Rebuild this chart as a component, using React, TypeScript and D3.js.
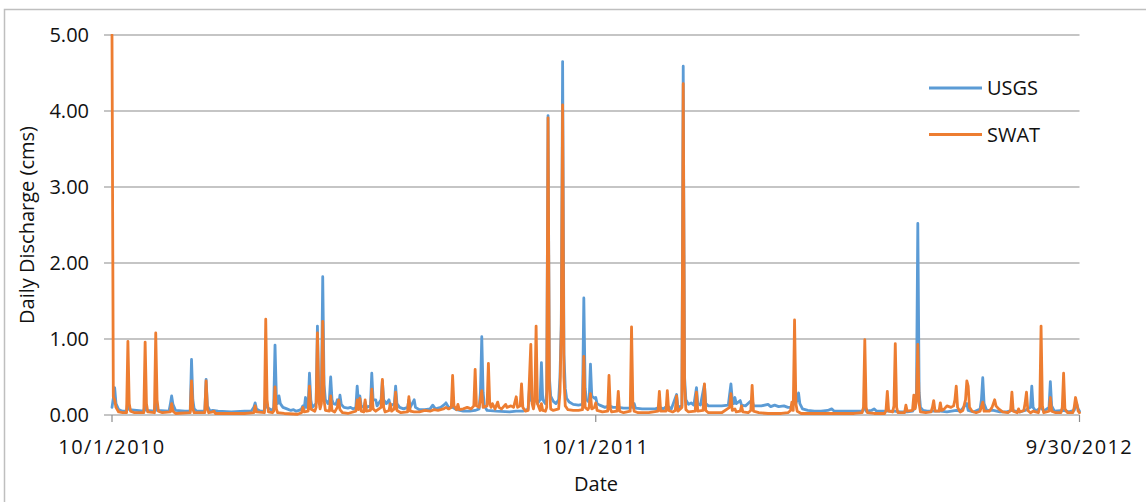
import React from "react";
import * as d3 from "d3";

// Day offsets from 10/1/2010 and daily discharge (cms)
const xTickDays = [0, 365, 730];
const xTickLabels = ["10/1/2010", "10/1/2011", "9/30/2012"];
const yTicks = [0, 1, 2, 3, 4, 5];
const seriesNames = ["USGS", "SWAT"];

const usgsPoints: [number, number][] = [
  [0,0.1],[1,0.22],[2,0.36],[3,0.15],[5,0.07],[8,0.05],[11,0.05],[12,0.2],[13,0.07],
  [24,0.05],[25,0.15],[26,0.06],[32,0.05],[33,0.2],[34,0.06],[43,0.05],[44,0.14],[45,0.25],[46,0.14],[48,0.06],
  [55,0.05],[59,0.05],[60,0.73],[61,0.2],[62,0.08],[64,0.05],[70,0.05],[71,0.47],[72,0.12],[74,0.05],
  [76,0.06],[80,0.05],[90,0.04],[100,0.05],[105,0.05],[107,0.1],[108,0.16],[109,0.08],
  [112,0.05],[115,0.05],[116,0.3],[117,0.1],[121,0.06],[122,0.1],[123,0.92],[124,0.25],[125,0.15],[126,0.25],[127,0.15],
  [129,0.1],[132,0.08],[135,0.06],[137,0.07],[139,0.05],[141,0.06],[143,0.08],[144,0.12],[145,0.08],[146,0.23],[147,0.1],
  [148,0.12],[149,0.55],[150,0.2],[151,0.1],[154,0.15],[155,1.17],[156,0.3],[157,0.2],[158,0.3],[159,1.82],[160,0.4],
  [161,0.2],[163,0.15],[164,0.2],[165,0.5],[166,0.2],[167,0.15],[169,0.14],[170,0.2],[171,0.12],[172,0.26],[173,0.14],
  [175,0.1],[178,0.09],[180,0.1],[182,0.08],[184,0.1],[185,0.38],[186,0.15],[187,0.25],[188,0.12],[190,0.1],[191,0.17],
  [192,0.1],[195,0.12],[196,0.55],[197,0.2],[199,0.2],[200,0.12],[203,0.2],[204,0.45],[205,0.2],[207,0.15],[209,0.2],
  [210,0.12],[213,0.15],[214,0.38],[215,0.15],[217,0.1],[220,0.08],[223,0.1],[224,0.2],[225,0.1],[228,0.2],[229,0.1],
  [232,0.07],[236,0.07],[240,0.08],[242,0.13],[244,0.08],[248,0.1],[251,0.14],[252,0.16],[254,0.1],[257,0.1],[260,0.07],
  [265,0.05],[270,0.05],[274,0.06],[277,0.08],[278,0.3],[279,1.03],[280,0.3],[281,0.12],[283,0.06],[290,0.05],[300,0.04],
  [305,0.05],[310,0.05],[314,0.08],[315,0.35],[316,0.2],[318,0.15],[320,0.25],[321,0.15],[323,0.2],[324,0.69],[325,0.2],
  [327,0.15],[328,0.3],[329,3.94],[330,0.5],[331,0.25],[333,0.18],[335,0.15],[337,0.2],[338,0.5],[339,1.2],[340,4.65],
  [341,0.8],[342,0.35],[343,0.22],[345,0.17],[348,0.14],[352,0.13],[355,0.14],[356,1.54],[357,0.35],[358,0.2],[360,0.17],
  [361,0.67],[362,0.25],[364,0.22],[365,0.23],[366,0.15],[368,0.13],[372,0.1],[375,0.12],[378,0.1],[382,0.1],[386,0.09],
  [391,0.09],[392,0.15],[393,0.1],[394,0.15],[395,0.09],[400,0.08],[405,0.08],[410,0.08],[413,0.1],[416,0.08],[419,0.12],
  [422,0.08],[426,0.27],[427,0.1],[430,0.12],[431,4.59],[432,0.5],[433,0.2],[435,0.14],[437,0.16],[439,0.13],[441,0.36],
  [442,0.15],[444,0.13],[447,0.4],[448,0.15],[450,0.12],[455,0.12],[460,0.12],[465,0.13],[467,0.41],[468,0.2],[469,0.15],
  [470,0.23],[471,0.15],[474,0.19],[475,0.13],[478,0.12],[483,0.2],[484,0.12],[490,0.12],[495,0.14],[497,0.11],[500,0.13],
  [503,0.11],[507,0.12],[510,0.1],[513,0.1],[515,0.2],[516,0.15],[517,0.2],[518,0.29],[519,0.15],[521,0.08],[525,0.06],
  [530,0.05],[535,0.05],[540,0.06],[543,0.08],[545,0.05],[550,0.05],[555,0.05],[560,0.05],[566,0.05],[568,0.1],[569,0.05],
  [573,0.06],[575,0.08],[577,0.05],[585,0.05],[590,0.05],[595,0.04],[600,0.04],[604,0.05],[606,0.1],[607,0.3],[608,2.52],
  [609,0.3],[610,0.1],[612,0.06],[615,0.05],[620,0.05],[625,0.05],[630,0.04],[637,0.06],[640,0.05],[645,0.15],[646,0.06],
  [650,0.04],[655,0.08],[656,0.2],[657,0.49],[658,0.15],[660,0.06],[665,0.06],[670,0.04],[675,0.04],[679,0.06],[685,0.04],
  [689,0.06],[693,0.1],[694,0.38],[695,0.1],[697,0.05],[701,0.1],[703,0.05],[707,0.1],[708,0.44],[709,0.12],[711,0.05],
  [718,0.06],[722,0.04],[726,0.06],[727,0.12],[728,0.14],[729,0.08],[730,0.05],
];

const swatPoints: [number, number][] = [
  [0,5.0],[1,0.24],[2,0.2],[3,0.1],[5,0.04],[8,0.03],[11,0.03],[12,0.97],[13,0.15],[14,0.05],[17,0.03],[24,0.03],
  [25,0.96],[26,0.15],[27,0.04],[32,0.03],[33,1.08],[34,0.2],[35,0.05],[38,0.03],[44,0.04],[45,0.15],[46,0.05],[48,0.02],
  [59,0.03],[60,0.45],[61,0.08],[62,0.03],[70,0.03],[71,0.45],[72,0.08],[73,0.03],[76,0.04],[77,0.05],[78,0.02],[90,0.02],
  [100,0.02],[107,0.03],[108,0.12],[109,0.04],[115,0.03],[116,1.26],[117,0.2],[118,0.04],[121,0.03],[122,0.05],[123,0.37],
  [124,0.08],[125,0.03],[130,0.02],[140,0.01],[143,0.03],[144,0.1],[145,0.04],[148,0.05],[149,0.38],[150,0.08],[153,0.05],
  [154,0.1],[155,1.08],[156,0.2],[157,0.08],[158,0.15],[159,1.23],[160,0.2],[161,0.06],[164,0.05],[165,0.25],[166,0.06],
  [168,0.04],[170,0.1],[171,0.2],[172,0.07],[174,0.03],[178,0.02],[184,0.05],[185,0.2],[186,0.07],[187,0.22],[188,0.05],
  [190,0.04],[191,0.2],[192,0.05],[195,0.06],[196,0.34],[197,0.08],[199,0.05],[203,0.1],[204,0.47],[205,0.1],[206,0.04],
  [209,0.06],[210,0.15],[211,0.05],[213,0.08],[214,0.3],[215,0.06],[218,0.03],[223,0.04],[224,0.24],[225,0.05],[228,0.04],
  [232,0.04],[236,0.06],[240,0.05],[243,0.07],[246,0.06],[250,0.08],[252,0.1],[254,0.08],[256,0.1],[257,0.52],[258,0.12],
  [260,0.07],[261,0.14],[262,0.07],[265,0.08],[268,0.1],[271,0.08],[273,0.12],[274,0.6],[275,0.12],[277,0.1],[279,0.32],
  [280,0.1],[283,0.12],[284,0.68],[285,0.15],[286,0.1],[287,0.15],[289,0.08],[291,0.17],[292,0.1],[294,0.08],[297,0.14],
  [298,0.1],[301,0.12],[303,0.1],[305,0.24],[306,0.1],[308,0.12],[309,0.41],[310,0.1],[312,0.05],[314,0.06],[316,0.93],
  [317,0.15],[318,0.08],[319,0.2],[320,1.17],[321,0.15],[323,0.06],[324,0.15],[325,0.06],[327,0.05],[328,0.1],[329,3.91],
  [330,0.4],[331,0.08],[333,0.06],[337,0.08],[338,0.3],[339,1.13],[340,4.08],[341,0.5],[342,0.12],[344,0.07],[348,0.06],
  [352,0.06],[355,0.07],[356,0.77],[357,0.1],[359,0.07],[360,0.1],[361,0.28],[362,0.08],[364,0.1],[365,0.16],[366,0.06],
  [370,0.04],[374,0.05],[375,0.52],[376,0.08],[377,0.04],[381,0.05],[382,0.31],[383,0.05],[386,0.03],[391,0.05],[392,1.16],
  [393,0.15],[394,0.05],[397,0.03],[405,0.03],[412,0.05],[413,0.31],[414,0.05],[418,0.05],[419,0.32],[420,0.06],[423,0.04],
  [425,0.06],[426,0.25],[427,0.05],[430,0.1],[431,4.36],[432,0.4],[433,0.07],[435,0.04],[440,0.05],[441,0.3],[442,0.05],
  [446,0.06],[447,0.41],[448,0.06],[450,0.03],[460,0.03],[466,0.1],[467,0.28],[468,0.06],[470,0.08],[471,0.04],[474,0.05],
  [475,0.12],[476,0.04],[480,0.03],[482,0.06],[483,0.39],[484,0.05],[488,0.03],[495,0.02],[505,0.02],[510,0.03],[512,0.06],
  [513,0.17],[514,0.06],[515,1.25],[516,0.15],[517,0.05],[520,0.02],[530,0.02],[540,0.02],[550,0.02],[560,0.02],[566,0.03],
  [567,0.1],[568,0.99],[569,0.1],[570,0.03],[575,0.02],[583,0.02],[584,0.06],[585,0.31],[586,0.05],[589,0.04],[590,0.12],
  [591,0.94],[592,0.1],[593,0.03],[598,0.03],[599,0.13],[600,0.05],[604,0.06],[605,0.26],[606,0.08],[607,0.2],[608,0.93],
  [609,0.15],[610,0.04],[614,0.03],[618,0.04],[619,0.1],[620,0.19],[621,0.05],[624,0.05],[625,0.16],[626,0.06],[628,0.08],
  [630,0.12],[633,0.1],[635,0.12],[636,0.2],[637,0.38],[638,0.1],[640,0.04],[642,0.06],[644,0.2],[645,0.45],[646,0.38],
  [647,0.1],[649,0.05],[652,0.03],[655,0.05],[657,0.17],[658,0.05],[662,0.05],[664,0.1],[666,0.2],[667,0.12],[669,0.08],
  [672,0.04],[676,0.03],[678,0.06],[679,0.3],[680,0.05],[683,0.03],[684,0.08],[685,0.04],[688,0.06],[689,0.16],[690,0.3],
  [691,0.06],[693,0.03],[695,0.05],[699,0.03],[700,0.1],[701,1.17],[702,0.12],[703,0.03],[707,0.05],[708,0.23],[709,0.05],
  [712,0.03],[716,0.03],[717,0.1],[718,0.55],[719,0.08],[721,0.03],[725,0.03],[726,0.1],[727,0.23],[728,0.15],[729,0.05],
  [730,0.03],
];

const COLORS = ["#5B9BD5", "#ED7D31"];
const FONT = "'Open Sans', 'Liberation Sans', sans-serif";

export default function App() {
  const W = 1146, H = 502;
  const left = 112, right = 1079.5, top = 35, bottom = 415;
  const x = d3.scaleLinear().domain([0, 730]).range([left, right]);
  const y = d3.scaleLinear().domain([0, 5]).range([bottom, top]);
  const line = d3.line<[number, number]>()
    .x((d) => x(d[0]))
    .y((d) => y(d[1]))
    .curve(d3.curveLinear);
  const series = [usgsPoints, swatPoints];

  return (
    <svg width={W} height={H} style={{ position: "absolute", left: 0, top: 0, background: "#fff" }}
      fontFamily={FONT}>
      <rect x={0} y={0} width={W} height={H} fill="#fff" />
      <rect x={4.5} y={9.5} width={1160} height={520} fill="none" stroke="#BFBFBF" strokeWidth={1.5} />
      {yTicks.map((t) => (
        <g key={t}>
          <line x1={104} x2={right} y1={y(t)} y2={y(t)} stroke="#8C8C8C" strokeWidth={1.2} />
          <text x={89} y={y(t)} dy="0.35em" textAnchor="end" fontSize={20} fill="#111">
            {d3.format(".2f")(t)}
          </text>
        </g>
      ))}
      {xTickDays.map((d, i) => (
        <g key={d}>
          <line x1={x(d)} x2={x(d)} y1={bottom} y2={bottom + 7} stroke="#8C8C8C" strokeWidth={1.2} />
          <text x={x(d)} y={454} textAnchor="middle" fontSize={20} letterSpacing={1.4} fill="#111">
            {xTickLabels[i]}
          </text>
        </g>
      ))}
      <clipPath id="plotclip">
        <rect x={left - 3} y={top - 1} width={right - left + 6} height={bottom - top + 4} />
      </clipPath>
      <g clipPath="url(#plotclip)">
        {series.map((pts, i) => (
          <path key={i} d={line(pts) || ""} fill="none" stroke={COLORS[i]} strokeWidth={2.8}
            strokeLinejoin="round" strokeLinecap="round" />
        ))}
      </g>
      <text x={596} y={491} textAnchor="middle" fontSize={20} fill="#111">Date</text>
      <text transform={`translate(34, ${(top + bottom) / 2}) rotate(-90)`} textAnchor="middle" fontSize={20} fill="#111">
        Daily Discharge (cms)
      </text>
      {seriesNames.map((n, i) => (
        <g key={n}>
          <line x1={929} x2={982} y1={88 + i * 46.5} y2={88 + i * 46.5} stroke={COLORS[i]} strokeWidth={3} />
          <text x={987} y={88 + i * 46.5} dy="0.35em" fontSize={20} fill="#111">{n}</text>
        </g>
      ))}
    </svg>
  );
}
